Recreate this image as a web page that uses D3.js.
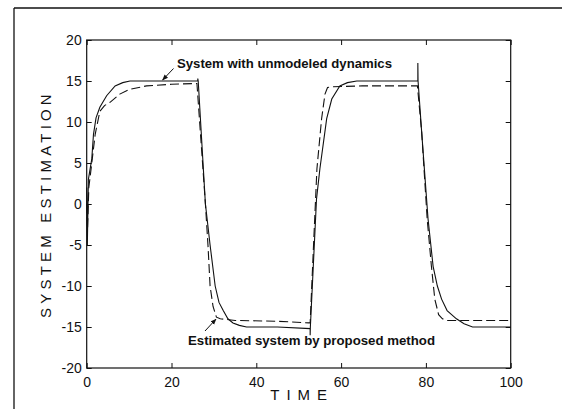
<!DOCTYPE html>
<html>
<head>
<meta charset="utf-8">
<script src="https://cdn.jsdelivr.net/npm/d3@7"></script>
<style>
  html, body { margin: 0; padding: 0; background: #fff; }
  svg { display: block; }
  text { font-family: "Liberation Sans", Arial, Helvetica, sans-serif; }
</style>
</head>
<body>
<svg id="chart" width="562" height="409"></svg>
<script>
// ---- data ----
const xTicks = [0, 20, 40, 60, 80, 100];
const yTicks = [-20, -15, -10, -5, 0, 5, 10, 15, 20];

// System with unmodeled dynamics (solid)
const solidT = [0, 0.15, 0.4, 1.2, 1.6, 2.2, 3.1, 4.7, 6.7, 8.5, 10.2, 15, 20, 26.2, 26.2, 26.3,
  28, 29.1, 30.3, 31.2, 32.2, 33.3, 34.5, 36, 37.7, 45, 52.7, 52.7, 52.75, 54.2, 55.0, 56.6,
  57.8, 59.7, 61.5, 63.7, 70, 78.1, 78.1, 78.15, 79, 80.5, 81.7, 82.7, 83.7, 85, 87.2, 89, 91, 100];
const solidY = [2, -5, 3, 5.5, 8.5, 10.5, 11.8, 13.2, 14.4, 14.8, 15, 15, 15, 15, 15.3, 15,
  0, -5, -10, -12, -13, -14, -14.5, -14.8, -15, -15, -15.2, -16, -15, 0.6, 4.3, 10.4,
  12.8, 14.4, 14.8, 15, 15, 15, 17.2, 15, 8.8, -1.8, -7.6, -10, -11.6, -13, -14, -14.6, -15, -15];

// Estimated system by proposed method (dashed)
const dashT = [0, 0.2, 0.5, 1.2, 2.0, 3.1, 4.2, 5.5, 7.8, 10.2, 14.1, 20, 26.0, 28.0, 28.6, 29.1,
  29.8, 30.6, 31.5, 35, 45, 52.5, 52.7, 53.5, 54.3, 55.4, 56.2, 56.8, 58, 65, 78, 79, 80.3,
  81.3, 82.1, 83, 83.9, 85, 100];
const dashY = [0, -3, 2, 5, 8.5, 11.3, 12, 12.4, 13.4, 14.0, 14.4, 14.6, 14.7, 0, -5, -10,
  -12.5, -13.8, -14.0, -14.2, -14.3, -14.5, -14.5, -5, 4.3, 10.4, 13.4, 14.2, 14.3, 14.4, 14.4, 8.8, -1.8,
  -7.6, -11.6, -13.5, -14, -14.2, -14.2];

const labels = {
  x: "TIME",
  y: "SYSTEM ESTIMATION",
  solid: "System with unmodeled dynamics",
  dash: "Estimated system by proposed method"
};

// ---- drawing ----
const svg = d3.select("#chart");
const L = 86.7, R = 510.7, T = 40, B = 368;
const x = d3.scaleLinear().domain([0, 100]).range([L, R]);
const y = d3.scaleLinear().domain([-20, 20]).range([B, T]);
const ink = "#111";
const fmt = d => String(d);

// outer frame (left + top)
svg.append("line").attr("x1", 14).attr("y1", 8).attr("x2", 14).attr("y2", 409)
  .attr("stroke", ink).attr("stroke-width", 1.3);
svg.append("line").attr("x1", 14).attr("y1", 8).attr("x2", 562).attr("y2", 8)
  .attr("stroke", ink).attr("stroke-width", 1.3);

function styleAxis(g) {
  g.select(".domain").remove();
  g.selectAll(".tick line").attr("stroke", ink).attr("stroke-width", 1);
  g.selectAll(".tick text").attr("fill", ink).style("font-size", "14px")
    .style("font-family", '"Liberation Sans", Arial, sans-serif');
}

svg.append("g").attr("transform", `translate(0,${B})`)
  .call(d3.axisBottom(x).tickValues(xTicks).tickSize(-5).tickPadding(9).tickFormat(fmt))
  .call(styleAxis);
svg.append("g").attr("transform", `translate(0,${T})`)
  .call(d3.axisTop(x).tickValues(xTicks).tickSize(-5).tickFormat(""))
  .call(styleAxis);
svg.append("g").attr("transform", `translate(${L},0)`)
  .call(d3.axisLeft(y).tickValues(yTicks).tickSize(-5).tickPadding(5).tickFormat(fmt))
  .call(styleAxis);
svg.append("g").attr("transform", `translate(${R},0)`)
  .call(d3.axisRight(y).tickValues(yTicks).tickSize(-5).tickFormat(""))
  .call(styleAxis);

// plot box
svg.append("rect").attr("x", L).attr("y", T).attr("width", R - L).attr("height", B - T)
  .attr("fill", "none").attr("stroke", ink).attr("stroke-width", 1.2);

const line = d3.line().x(d => x(d[0])).y(d => y(d[1]));
const solid = solidT.map((t, i) => [t, solidY[i]]);
const dashed = dashT.map((t, i) => [t, dashY[i]]);

svg.append("path").datum(dashed).attr("d", line).attr("fill", "none")
  .attr("stroke", ink).attr("stroke-width", 1.1).attr("stroke-dasharray", "9,4");
svg.append("path").datum(solid).attr("d", line).attr("fill", "none")
  .attr("stroke", ink).attr("stroke-width", 1.1);

// axis labels
svg.append("text").attr("x", (L + R) / 2).attr("y", 400).attr("text-anchor", "middle")
  .style("font-size", "15px").style("letter-spacing", "7px").attr("fill", ink)
  .attr("dx", 3.5).text(labels.x);
svg.append("text").attr("transform", `translate(51,${(T + B) / 2}) rotate(-90)`)
  .attr("text-anchor", "middle").style("font-size", "15px").style("letter-spacing", "4.2px")
  .attr("fill", ink).text(labels.y);

// annotations
const defs = svg.append("defs");
defs.append("marker").attr("id", "ah").attr("viewBox", "0 0 10 10").attr("refX", 9).attr("refY", 5)
  .attr("markerWidth", 6).attr("markerHeight", 6).attr("orient", "auto")
  .append("path").attr("d", "M0,1 L10,5 L0,9 Z").attr("fill", ink);

svg.append("text").attr("x", 177).attr("y", 68).style("font-size", "12.5px").style("font-weight", "bold")
  .attr("textLength", 215).attr("lengthAdjust", "spacingAndGlyphs").attr("fill", ink).text(labels.solid);
svg.append("line").attr("x1", 173.5).attr("y1", 68.5).attr("x2", x(17.9)).attr("y2", y(15) - 1)
  .attr("stroke", ink).attr("stroke-width", 1).attr("marker-end", "url(#ah)");

svg.append("text").attr("x", 188).attr("y", 345).style("font-size", "12.5px").style("font-weight", "bold")
  .attr("textLength", 247).attr("lengthAdjust", "spacingAndGlyphs").attr("fill", ink).text(labels.dash);
svg.append("line").attr("x1", 205).attr("y1", 331).attr("x2", x(30.6) - 0.5).attr("y2", y(-13.8) + 2)
  .attr("stroke", ink).attr("stroke-width", 1).attr("marker-end", "url(#ah)");
</script>
</body>
</html>
